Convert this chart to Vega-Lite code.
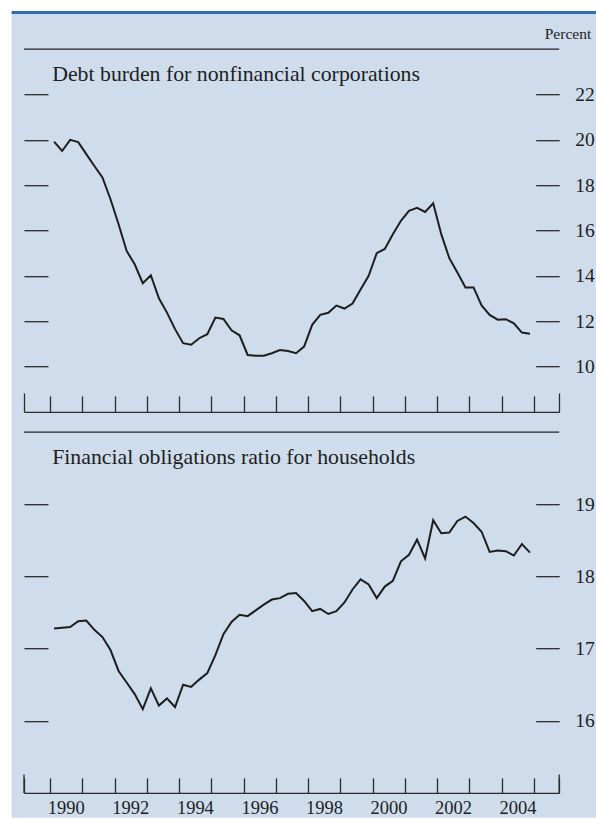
{
  "$schema": "https://vega.github.io/schema/vega-lite/v6.json",
  "background": "#ffffff",
  "padding": {"left": 10, "top": 10.2, "right": 0, "bottom": 0},
  "spacing": 20,
  "bounds": "flush",
  "config": {
    "view": {"stroke": null},
    "font": "Liberation Serif",
    "axis": {"grid": false, "tickColor": "#2b2b2b", "tickWidth": 1.3, "labelFont": "Liberation Serif", "labelColor": "#1e1e1e", "domainColor": "#2b2b2b", "domainWidth": 1.3}
  },
  "datasets": {
    "debt": [
      {"year": 1990.125, "value": 19.92}, {"year": 1990.375, "value": 19.51}, {"year": 1990.625, "value": 20.0}, {"year": 1990.875, "value": 19.9},
      {"year": 1991.125, "value": 19.37}, {"year": 1991.375, "value": 18.85}, {"year": 1991.625, "value": 18.34}, {"year": 1991.875, "value": 17.38},
      {"year": 1992.125, "value": 16.28}, {"year": 1992.375, "value": 15.1}, {"year": 1992.625, "value": 14.51}, {"year": 1992.875, "value": 13.68},
      {"year": 1993.125, "value": 14.03}, {"year": 1993.375, "value": 13.01}, {"year": 1993.625, "value": 12.38}, {"year": 1993.875, "value": 11.65},
      {"year": 1994.125, "value": 11.03}, {"year": 1994.375, "value": 10.96}, {"year": 1994.625, "value": 11.25}, {"year": 1994.875, "value": 11.43},
      {"year": 1995.125, "value": 12.16}, {"year": 1995.375, "value": 12.1}, {"year": 1995.625, "value": 11.6}, {"year": 1995.875, "value": 11.38},
      {"year": 1996.125, "value": 10.51}, {"year": 1996.375, "value": 10.48}, {"year": 1996.625, "value": 10.48}, {"year": 1996.875, "value": 10.59},
      {"year": 1997.125, "value": 10.73}, {"year": 1997.375, "value": 10.69}, {"year": 1997.625, "value": 10.59}, {"year": 1997.875, "value": 10.88},
      {"year": 1998.125, "value": 11.84}, {"year": 1998.375, "value": 12.28}, {"year": 1998.625, "value": 12.37}, {"year": 1998.875, "value": 12.69},
      {"year": 1999.125, "value": 12.56}, {"year": 1999.375, "value": 12.78}, {"year": 1999.625, "value": 13.4}, {"year": 1999.875, "value": 14.0},
      {"year": 2000.125, "value": 15.0}, {"year": 2000.375, "value": 15.19}, {"year": 2000.625, "value": 15.84}, {"year": 2000.875, "value": 16.43},
      {"year": 2001.125, "value": 16.87}, {"year": 2001.375, "value": 17.0}, {"year": 2001.625, "value": 16.82}, {"year": 2001.875, "value": 17.2},
      {"year": 2002.125, "value": 15.84}, {"year": 2002.375, "value": 14.78}, {"year": 2002.625, "value": 14.15}, {"year": 2002.875, "value": 13.49},
      {"year": 2003.125, "value": 13.49}, {"year": 2003.375, "value": 12.7}, {"year": 2003.625, "value": 12.28}, {"year": 2003.875, "value": 12.07},
      {"year": 2004.125, "value": 12.09}, {"year": 2004.375, "value": 11.91}, {"year": 2004.625, "value": 11.5}, {"year": 2004.875, "value": 11.45}
    ],
    "fin": [
      {"year": 1990.125, "value": 17.28}, {"year": 1990.375, "value": 17.29}, {"year": 1990.625, "value": 17.3}, {"year": 1990.875, "value": 17.38},
      {"year": 1991.125, "value": 17.39}, {"year": 1991.375, "value": 17.26}, {"year": 1991.625, "value": 17.16}, {"year": 1991.875, "value": 16.98},
      {"year": 1992.125, "value": 16.69}, {"year": 1992.375, "value": 16.53}, {"year": 1992.625, "value": 16.37}, {"year": 1992.875, "value": 16.16},
      {"year": 1993.125, "value": 16.45}, {"year": 1993.375, "value": 16.21}, {"year": 1993.625, "value": 16.31}, {"year": 1993.875, "value": 16.19},
      {"year": 1994.125, "value": 16.5}, {"year": 1994.375, "value": 16.47}, {"year": 1994.625, "value": 16.57}, {"year": 1994.875, "value": 16.66},
      {"year": 1995.125, "value": 16.91}, {"year": 1995.375, "value": 17.2}, {"year": 1995.625, "value": 17.37}, {"year": 1995.875, "value": 17.47},
      {"year": 1996.125, "value": 17.45}, {"year": 1996.375, "value": 17.53}, {"year": 1996.625, "value": 17.61}, {"year": 1996.875, "value": 17.68},
      {"year": 1997.125, "value": 17.7}, {"year": 1997.375, "value": 17.76}, {"year": 1997.625, "value": 17.77}, {"year": 1997.875, "value": 17.66},
      {"year": 1998.125, "value": 17.52}, {"year": 1998.375, "value": 17.55}, {"year": 1998.625, "value": 17.48}, {"year": 1998.875, "value": 17.52},
      {"year": 1999.125, "value": 17.64}, {"year": 1999.375, "value": 17.82}, {"year": 1999.625, "value": 17.96}, {"year": 1999.875, "value": 17.89},
      {"year": 2000.125, "value": 17.7}, {"year": 2000.375, "value": 17.86}, {"year": 2000.625, "value": 17.94}, {"year": 2000.875, "value": 18.21},
      {"year": 2001.125, "value": 18.3}, {"year": 2001.375, "value": 18.51}, {"year": 2001.625, "value": 18.25}, {"year": 2001.875, "value": 18.78},
      {"year": 2002.125, "value": 18.6}, {"year": 2002.375, "value": 18.61}, {"year": 2002.625, "value": 18.77}, {"year": 2002.875, "value": 18.83},
      {"year": 2003.125, "value": 18.74}, {"year": 2003.375, "value": 18.62}, {"year": 2003.625, "value": 18.34}, {"year": 2003.875, "value": 18.36},
      {"year": 2004.125, "value": 18.35}, {"year": 2004.375, "value": 18.29}, {"year": 2004.625, "value": 18.45}, {"year": 2004.875, "value": 18.33}
    ]
  },
  "vconcat": [
    {
      "width": 535.2,
      "height": 362.7,
      "resolve": {"scale": {"x": "shared", "y": "shared"}, "axis": {"x": "independent", "y": "independent"}},
      "layer": [
        {
          "data": {"values": [{}]},
          "mark": {"type": "rect", "color": "#cfdcec", "clip": false},
          "encoding": {
            "x": {"datum": 1988.81, "type": "quantitative", "scale": {"domain": [1989.194, 2005.78], "nice": false, "zero": false}, "axis": null},
            "x2": {"datum": 2006.97},
            "y": {"datum": 25.615, "type": "quantitative", "scale": {"domain": [8, 24], "nice": false, "zero": false}, "axis": null},
            "y2": {"datum": -9.9}
          }
        },
        {
          "data": {"name": "debt"},
          "mark": {"type": "line", "color": "#1e1e1e", "strokeWidth": 2},
          "encoding": {
            "x": {"field": "year", "type": "quantitative",
              "scale": {"domain": [1989.194, 2005.78], "nice": false, "zero": false},
              "axis": {"orient": "bottom", "zindex": 1, "title": null, "values": [1989.194, 1990, 1991, 1992, 1993, 1994, 1995, 1996, 1997, 1998, 1999, 2000, 2001, 2002, 2003, 2004, 2005, 2005.78],
                "tickSize": {"condition": {"test": "datum.value < 1990 || datum.value > 2005", "value": -19}, "value": -16},
                "labels": false, "domain": true}},
            "y": {"field": "value", "type": "quantitative",
              "scale": {"domain": [8, 24], "nice": false, "zero": false},
              "axis": {"orient": "left", "zindex": 1, "title": null, "values": [10, 12, 14, 16, 18, 20, 22], "offset": -24, "tickSize": 24, "labels": false, "domain": false}}
          }
        },
        {
          "data": {"values": [{}]},
          "mark": {"type": "rule", "color": "#222222", "strokeWidth": 1.2},
          "encoding": {
            "y": {"datum": 24, "type": "quantitative",
              "scale": {"domain": [8, 24], "nice": false, "zero": false},
              "axis": {"orient": "right", "zindex": 1, "values": [10, 12, 14, 16, 18, 20, 22], "offset": -23.5, "tickSize": 23.5, "labelPadding": 15.5, "labelFontSize": 19.5, "labelAlign": "left", "labelBaseline": "middle", "domain": false,
                "title": "Percent", "titleAngle": 0, "titleAlign": "right", "titleBaseline": "alphabetic", "titleX": 55, "titleY": -10.3, "titleFontSize": 15.5, "titleFontWeight": "normal", "titleFont": "Liberation Serif", "titleColor": "#1e1e1e"}}
          }
        },
        {
          "data": {"values": [{}]},
          "mark": {"type": "rule", "color": "#2f6cb0", "strokeWidth": 3},
          "encoding": {
            "x": {"datum": 1988.81, "type": "quantitative", "scale": {"domain": [1989.194, 2005.78], "nice": false, "zero": false}, "axis": null},
            "x2": {"datum": 2006.97},
            "y": {"datum": 25.615, "type": "quantitative", "scale": {"domain": [8, 24], "nice": false, "zero": false}, "axis": null}
          }
        },
        {
          "data": {"values": [{}]},
          "mark": {"type": "text", "align": "left", "baseline": "alphabetic", "fontSize": 21.8, "font": "Liberation Serif", "color": "#1e1e1e"},
          "encoding": {
            "x": {"datum": 1990.068, "type": "quantitative", "scale": {"domain": [1989.194, 2005.78], "nice": false, "zero": false}, "axis": null},
            "y": {"datum": 22.6, "type": "quantitative", "scale": {"domain": [8, 24], "nice": false, "zero": false}, "axis": null},
            "text": {"value": "Debt burden for nonfinancial corporations"}
          }
        }
      ]
    },
    {
      "width": 535.2,
      "height": 360.7,
      "resolve": {"scale": {"x": "shared", "y": "shared"}, "axis": {"x": "independent", "y": "independent"}},
      "layer": [
        {
          "data": {"name": "fin"},
          "mark": {"type": "line", "color": "#1e1e1e", "strokeWidth": 2},
          "encoding": {
            "x": {"field": "year", "type": "quantitative",
              "scale": {"domain": [1989.194, 2005.78], "nice": false, "zero": false},
              "axis": {"orient": "bottom", "title": null, "values": [1989.194, 1990, 1991, 1992, 1993, 1994, 1995, 1996, 1997, 1998, 1999, 2000, 2001, 2002, 2003, 2004, 2005, 2005.78],
                "tickSize": -15,
                "labelExpr": "datum.value >= 1990 && datum.value <= 2004 && datum.value % 2 == 0 ? format(datum.value, 'd') : ''",
                "labelOffset": 15.8, "labelPadding": 35.5, "labelBaseline": "alphabetic", "labelFontSize": 18.5, "labelFlush": false, "labelOverlap": false, "labelBound": false, "domain": true}},
            "y": {"field": "value", "type": "quantitative",
              "scale": {"domain": [15, 20], "nice": false, "zero": false},
              "axis": {"orient": "left", "title": null, "values": [16, 17, 18, 19], "offset": -24, "tickSize": 24, "labels": false, "domain": false}}
          }
        },
        {
          "data": {"values": [{}]},
          "mark": {"type": "rule", "color": "#222222", "strokeWidth": 1.2},
          "encoding": {
            "y": {"datum": 20, "type": "quantitative",
              "scale": {"domain": [15, 20], "nice": false, "zero": false},
              "axis": {"orient": "right", "title": null, "values": [16, 17, 18, 19], "offset": -23.5, "tickSize": 23.5, "labelPadding": 15.5, "labelFontSize": 19.5, "labelAlign": "left", "labelBaseline": "middle", "domain": false}}
          }
        },
        {
          "data": {"values": [{}]},
          "mark": {"type": "rule", "color": "#2b2b2b", "strokeWidth": 1.3},
          "encoding": {
            "x": {"datum": 1989.194, "type": "quantitative", "scale": {"domain": [1989.194, 2005.78], "nice": false, "zero": false}, "axis": null},
            "y": {"datum": 15, "type": "quantitative", "scale": {"domain": [15, 20], "nice": false, "zero": false}, "axis": null},
            "y2": {"datum": 15.256}
          }
        },
        {
          "data": {"values": [{}]},
          "mark": {"type": "rule", "color": "#2b2b2b", "strokeWidth": 1.3},
          "encoding": {
            "x": {"datum": 2005.78, "type": "quantitative", "scale": {"domain": [1989.194, 2005.78], "nice": false, "zero": false}, "axis": null},
            "y": {"datum": 15, "type": "quantitative", "scale": {"domain": [15, 20], "nice": false, "zero": false}, "axis": null},
            "y2": {"datum": 15.256}
          }
        },
        {
          "data": {"values": [{}]},
          "mark": {"type": "text", "align": "left", "baseline": "alphabetic", "fontSize": 21.8, "font": "Liberation Serif", "color": "#1e1e1e"},
          "encoding": {
            "x": {"datum": 1990.068, "type": "quantitative", "scale": {"domain": [1989.194, 2005.78], "nice": false, "zero": false}, "axis": null},
            "y": {"datum": 19.557, "type": "quantitative", "scale": {"domain": [15, 20], "nice": false, "zero": false}, "axis": null},
            "text": {"value": "Financial obligations ratio for households"}
          }
        }
      ]
    }
  ]
}
